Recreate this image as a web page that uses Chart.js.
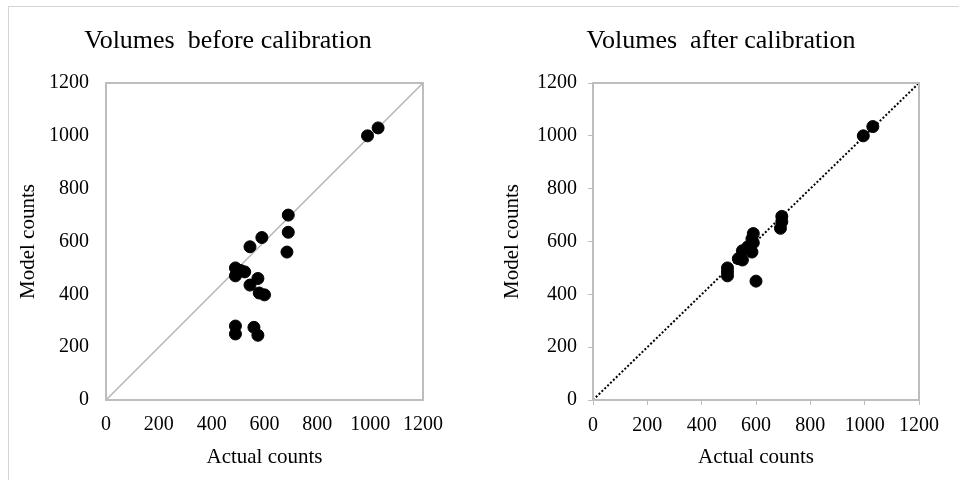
<!DOCTYPE html>
<html>
<head>
<meta charset="utf-8">
<script src="https://cdn.jsdelivr.net/npm/chart.js@4"></script>
<style>
  html, body { margin: 0; padding: 0; background: #fff; }
  body { width: 959px; height: 480px; position: relative; overflow: hidden; }
  .frame { position: absolute; left: 8px; top: 6px; right: -2px; bottom: -2px;
           border-left: 1px solid #d4d4d4; border-top: 1px solid #d4d4d4; }
  .panel { position: absolute; top: 0; height: 480px; }
  #left { left: 0; width: 456px; }
  #right { left: 482px; width: 477px; }
</style>
</head>
<body>
<div class="frame"></div>
<div class="panel" id="left"><canvas id="cBefore" width="456" height="480"></canvas></div>
<div class="panel" id="right"><canvas id="cAfter" width="477" height="480"></canvas></div>
<script>
// Counts per location: actual (observed) vs. model output
const beforeActual = [690, 690, 685, 590, 545, 490, 510, 525, 490, 575, 545, 580, 600, 490, 490, 560, 575, 990, 1030];
const beforeModel  = [700, 635, 560, 615, 580, 500, 490, 485, 470, 460, 435, 405, 398, 280, 250, 275, 245, 1000, 1030];
const afterActual  = [695, 695, 690, 590, 585, 590, 570, 550, 585, 550, 535, 495, 495, 495, 600, 995, 1030];
const afterModel   = [695, 675, 650, 630, 610, 595, 580, 565, 560, 530, 535, 500, 485, 470, 450, 1000, 1035];

const axisMin = 0;
const axisMax = 1200;
const axisStep = 200;
const identityLine = [axisMin, axisMax];

const titles = ['Volumes  before calibration', 'Volumes  after calibration'];
const xTitle = 'Actual counts';
const yTitle = 'Model counts';

const serif = '"Liberation Serif", "Times New Roman", serif';

function toPoints(xs, ys) {
  return xs.map((x, i) => ({ x: x, y: ys[i] }));
}

// Plain integer tick labels (no thousands separator)
const plainTick = (v) => String(v);

// Title text and plot frame drawn around the chart area
const decor = {
  id: 'decor',
  afterDraw(chart, args, opts) {
    const ctx = chart.ctx;
    const a = chart.chartArea;
    ctx.save();
    ctx.strokeStyle = '#bdbdbd';
    ctx.lineWidth = 2;
    ctx.strokeRect(a.left, a.top, a.right - a.left, a.bottom - a.top);
    ctx.fillStyle = '#000';
    ctx.font = '26px ' + serif;
    ctx.textAlign = 'center';
    ctx.textBaseline = 'middle';
    ctx.fillText(opts.text, opts.cx, opts.cy);
    ctx.restore();
  }
};

function makeChart(id, xs, ys, cfg) {
  const tickColor = '#bdbdbd';
  return new Chart(document.getElementById(id), {
    type: 'scatter',
    data: {
      datasets: [
        {
          type: 'line',
          data: toPoints(identityLine, identityLine),
          borderColor: cfg.lineColor,
          borderWidth: cfg.lineWidth,
          borderDash: cfg.lineDash,
          pointRadius: 0,
          fill: false,
          order: 2
        },
        {
          data: toPoints(xs, ys),
          backgroundColor: '#000',
          borderColor: '#000',
          pointRadius: 6,
          pointHoverRadius: 6,
          order: 1
        }
      ]
    },
    options: {
      responsive: false,
      animation: false,
      events: [],
      layout: { padding: { top: 83, right: cfg.padRight, bottom: 0, left: cfg.padLeft } },
      plugins: {
        legend: { display: false },
        tooltip: { enabled: false },
        decor: { text: cfg.title, cx: cfg.titleX, cy: 41 }
      },
      scales: {
        x: {
          type: 'linear',
          min: axisMin, max: axisMax,
          ticks: { stepSize: axisStep, callback: plainTick, color: '#000', font: { family: serif, size: 20 }, padding: cfg.showTicks ? 9 : 13, maxRotation: 0 },
          grid: { display: cfg.showTicks, drawOnChartArea: false, drawTicks: cfg.showTicks, tickLength: 5, color: tickColor },
          border: { display: true, color: '#bdbdbd', width: 2 },
          title: { display: true, text: xTitle, color: '#000', font: { family: serif, size: 21 }, padding: { top: 0, bottom: 10 } },
          afterFit(s) { s.height = 80; }
        },
        y: {
          type: 'linear',
          min: axisMin, max: axisMax,
          ticks: { stepSize: axisStep, callback: plainTick, color: '#000', font: { family: serif, size: 20 }, padding: cfg.showTicks ? 11 : 17 },
          grid: { display: cfg.showTicks, drawOnChartArea: false, drawTicks: cfg.showTicks, tickLength: 5, color: tickColor },
          border: { display: true, color: '#bdbdbd', width: 2 },
          title: { display: true, text: yTitle, color: '#000', font: { family: serif, size: 21 }, padding: 0 },
          afterFit(s) { s.width = cfg.yWidth; }
        }
      }
    },
    plugins: [decor]
  });
}

makeChart('cBefore', beforeActual, beforeModel, {
  title: titles[0], titleX: 228, padLeft: 16, padRight: 32, yWidth: 90,
  lineColor: '#b5b5b5', lineWidth: 1.5, lineDash: [], showTicks: false
});
makeChart('cAfter', afterActual, afterModel, {
  title: titles[1], titleX: 239, padLeft: 18, padRight: 40, yWidth: 93,
  lineColor: '#000', lineWidth: 2, lineDash: [2, 2], showTicks: true
});
</script>
</body>
</html>
